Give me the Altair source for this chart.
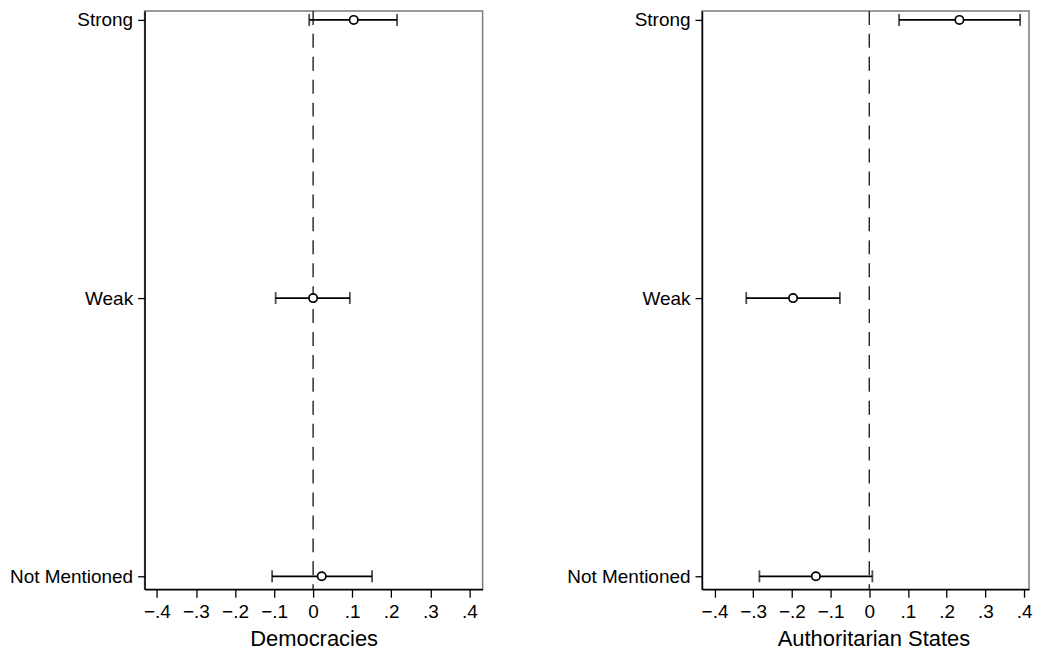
import altair as alt
import pandas as pd

cats = ["Strong", "Weak", "Not Mentioned"]
cat_pos = [2, 1, 0]

dem_est = [0.104, 0.000, 0.022]
dem_lo = [-0.010, -0.096, -0.105]
dem_hi = [0.215, 0.094, 0.151]

aut_est = [0.233, -0.197, -0.138]
aut_lo = [0.077, -0.318, -0.284]
aut_hi = [0.390, -0.076, 0.008]

tick_vals = [-0.4, -0.3, -0.2, -0.1, 0.0, 0.1, 0.2, 0.3, 0.4]
titles = ["Democracies", "Authoritarian States"]

FONT = "Liberation Sans"

ylabel_expr = (
    "datum.value == 2 ? 'Strong' : datum.value == 1 ? 'Weak\u00a0\u00a0\u00a0\u00a0' : 'Not Mentioned'"
)


def panel(est, lo, hi, title, xdomain, width, title_x=None):
    df = pd.DataFrame({"cat": cats, "pos": cat_pos, "est": est, "lo": lo, "hi": hi})
    xs = alt.Scale(domain=xdomain, nice=False, zero=False)
    ys = alt.Scale(domain=[-0.0466, 2.0323], nice=False, zero=False)
    axis_kw = dict(
        values=tick_vals,
        labelExpr="datum.value == 0 ? '0' : replace(format(datum.value, '.1f'), '0.', '.')",
        title=title,
        grid=False,
    )
    if title_x is not None:
        axis_kw["titleX"] = title_x
    xaxis = alt.Axis(**axis_kw)
    yaxis = alt.Axis(title=None, grid=False, values=cat_pos, labelExpr=ylabel_expr)
    base = alt.Chart(df)
    zero = alt.Chart(pd.DataFrame({"z": [0.0]})).mark_rule(
        color="#222222", strokeWidth=1.4, strokeDash=[14, 9]
    ).encode(x=alt.X("z:Q", scale=xs, axis=xaxis))
    bars = base.mark_rule(color="black", strokeWidth=1.8).encode(
        x=alt.X("lo:Q", scale=xs, axis=xaxis),
        x2="hi:Q",
        y=alt.Y("pos:Q", scale=ys, axis=yaxis),
    )
    cap_lo = base.mark_tick(color="black", thickness=1.8, size=12, orient="vertical").encode(
        x=alt.X("lo:Q", scale=xs), y=alt.Y("pos:Q", scale=ys)
    )
    cap_hi = base.mark_tick(color="black", thickness=1.8, size=12, orient="vertical").encode(
        x=alt.X("hi:Q", scale=xs), y=alt.Y("pos:Q", scale=ys)
    )
    pts = base.mark_point(
        shape="circle", filled=True, fill="white", stroke="black", strokeWidth=1.7, size=70, opacity=1
    ).encode(x=alt.X("est:Q", scale=xs), y=alt.Y("pos:Q", scale=ys))
    return alt.layer(zero, bars, cap_lo, cap_hi, pts).properties(width=width, height=580)


left = panel(dem_est, dem_lo, dem_hi, titles[0], [-0.4315, 0.434], 339)
right = panel(aut_est, aut_lo, aut_hi, titles[1], [-0.4325, 0.4129], 328, title_x=172)

chart = (
    alt.hconcat(left, right, spacing=82)
    .properties(padding={"top": 0, "left": 0, "right": 0, "bottom": 0})
    .configure_view(stroke="#7a7a7a", strokeWidth=1.5)
    .configure_axis(
        labelFont=FONT,
        titleFont=FONT,
        labelFontSize=19,
        titleFontSize=22,
        titleFontWeight="normal",
        labelColor="black",
        titleColor="black",
        domainColor="black",
        domainWidth=1.5,
        tickColor="black",
        tickWidth=1.3,
        labelPadding=5,
    )
    .configure_axisX(tickSize=8, titlePadding=7)
    .configure_axisY(tickSize=7)
)

chart.save("out.html", embed_options={"renderer": "svg", "actions": False})
